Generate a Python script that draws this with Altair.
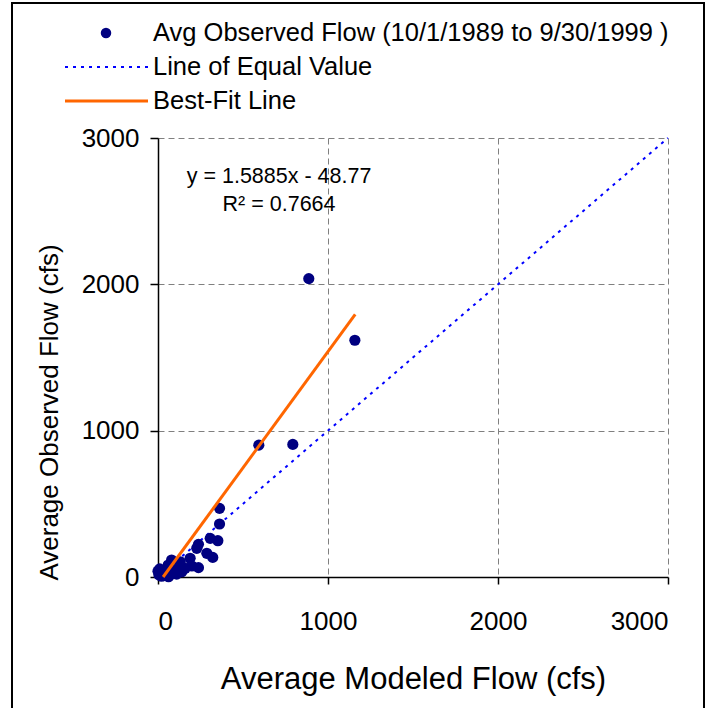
import altair as alt
import pandas as pd

# ---- data ----
modeled = [0, 5, 10, 15, 20, 25, 30, 35, 45, 50, 60, 62, 70, 80, 90, 101, 110, 120,
           131, 140, 160, 189, 199, 228, 238, 238, 287, 307, 322, 352, 362, 362,
           593, 793, 887, 1158]
observed = [40, 15, 55, 25, 5, 30, 20, 10, 50, 30, 82, 2, 15, 116, 40, 48, 20, 60,
            104, 36, 59, 128, 75, 196, 223, 64, 162, 264, 134, 248, 469, 362,
            901, 906, 2039, 1618]
fit_x = [30, 1160]
fit_y = [0, 1794]
equal_vals = [0, 3000]
tick_vals = [0, 1000, 2000, 3000]
legend_labels = ["Avg Observed Flow (10/1/1989 to 9/30/1999 )",
                 "Line of Equal Value", "Best-Fit Line"]
eq_text = ["y = 1.5885x - 48.77", "R\u00b2 = 0.7664"]
eq_x = [712, 712]
eq_y = [2733, 2542]

FONT = "Liberation Sans"
NAVY = "#000080"
BLUE = "#0000FF"
ORANGE = "#FF6600"

pts = pd.DataFrame({"m": modeled, "o": observed})
fit = pd.DataFrame({"m": fit_x, "o": fit_y})
eq = pd.DataFrame({"m": equal_vals, "o": equal_vals})
eqt = pd.DataFrame({"m": eq_x, "o": eq_y, "t": eq_text})

xs = alt.Scale(domain=[0, 3000], nice=False, zero=False)
ys = alt.Scale(domain=[0, 3000], nice=False, zero=False)

common_axis = dict(values=tick_vals, format="d", grid=True, gridDash=[6, 4],
                   gridColor="#808080", gridWidth=1, domainColor="black",
                   domainWidth=1.5, tickColor="black", tickWidth=1.5,
                   labelFont=FONT, labelColor="black", labelFontSize=26,
                   titleFont=FONT, titleColor="black", titleFontWeight="normal")

xax = alt.Axis(title="Average Modeled Flow (cfs)", tickSize=7, labelPadding=24,
               titleFontSize=31, titleBaseline="alphabetic", titleY=111,
               **common_axis)
yax = alt.Axis(title="Average Observed Flow (cfs)", tickSize=8, labelPadding=11,
               titleFontSize=26, titleAngle=270, titleBaseline="middle",
               titleAlign="center", titleX=-109, titleY=274, **common_axis)

X = alt.X("m:Q", scale=xs, axis=xax)
Y = alt.Y("o:Q", scale=ys, axis=yax)

equal_line = alt.Chart(eq).mark_line(color=BLUE, strokeWidth=2, strokeDash=[3, 5]).encode(
    x=X, y=Y)
points = alt.Chart(pts).mark_circle(color=NAVY, opacity=1, size=125).encode(
    x=alt.X("m:Q", scale=xs), y=alt.Y("o:Q", scale=ys))
fit_line = alt.Chart(fit).mark_line(color=ORANGE, strokeWidth=3).encode(
    x=alt.X("m:Q", scale=xs), y=alt.Y("o:Q", scale=ys))
eq_marks = alt.Chart(eqt).mark_text(font=FONT, fontSize=21.5, color="black",
                                    align="center", baseline="middle").encode(
    x=alt.X("m:Q", scale=xs), y=alt.Y("o:Q", scale=ys), text="t:N")

# ---- manual legend (pixel placement relative to plot area) ----
leg = pd.DataFrame({"t": legend_labels})
leg_dot = alt.Chart(leg.iloc[[0]]).mark_circle(color=NAVY, opacity=1, size=110).encode(
    x=alt.value(-52), y=alt.value(-105))
leg_eq = alt.Chart(leg.iloc[[1]]).mark_rule(color=BLUE, strokeWidth=2, strokeDash=[3, 5]).encode(
    x=alt.value(-93), x2=alt.value(-10), y=alt.value(-71))
leg_fit = alt.Chart(leg.iloc[[2]]).mark_rule(color=ORANGE, strokeWidth=3).encode(
    x=alt.value(-93), x2=alt.value(-10), y=alt.value(-37))

leg_texts = []
for i, yy in enumerate([-105, -71, -37]):
    leg_texts.append(
        alt.Chart(leg.iloc[[i]]).mark_text(font=FONT, fontSize=25.5, color="black",
                                           align="left", baseline="middle").encode(
            x=alt.value(-5), y=alt.value(yy), text="t:N"))

frame = alt.Chart(leg.iloc[[0]]).mark_rect(fill=None, stroke="black", strokeWidth=2).encode(
    x=alt.value(-146), x2=alt.value(546), y=alt.value(-135), y2=alt.value(600))

chart = alt.layer(
    frame, equal_line, points, fit_line, eq_marks,
    leg_dot, leg_eq, leg_fit, *leg_texts
).properties(
    width=510, height=439,
    autosize=alt.AutoSizeParams(type="none"),
    padding={"left": 158, "top": 138, "right": 41, "bottom": 131},
    background="white",
).configure_view(stroke=None)

chart.save("out.html", embed_options={"renderer": "svg", "actions": False})
